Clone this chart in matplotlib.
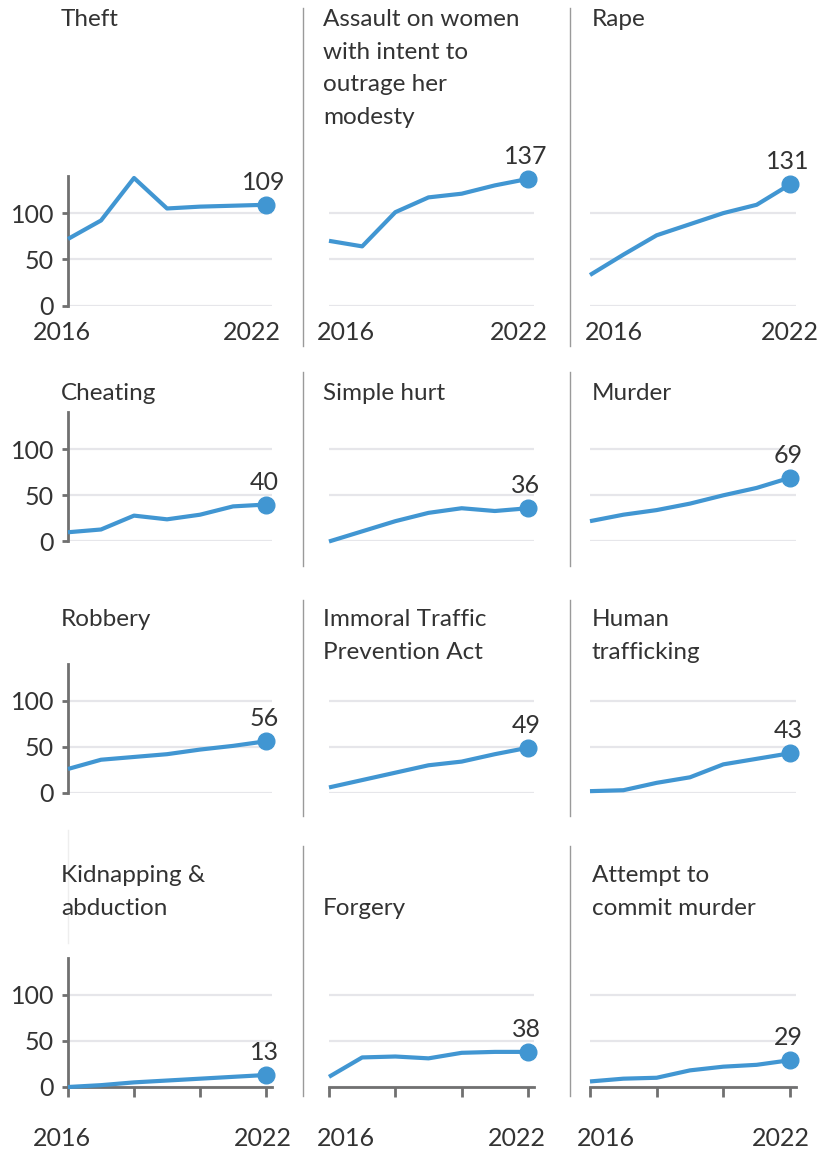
import matplotlib
matplotlib.use("Agg")
import matplotlib.pyplot as plt
from matplotlib.lines import Line2D

plt.rcParams['font.family'] = ['Lato', 'DejaVu Sans']

years = [2016, 2017, 2018, 2019, 2020, 2021, 2022]

titles = [
    "Theft", "Assault on women\nwith intent to\noutrage her\nmodesty", "Rape",
    "Cheating", "Simple hurt", "Murder",
    "Robbery", "Immoral Traffic\nPrevention Act", "Human\ntrafficking",
    "Kidnapping &\nabduction", "Forgery", "Attempt to\ncommit murder",
]

theft = [72, 92, 138, 105, 107, 108, 109]
assault = [70, 64, 101, 117, 121, 130, 137]
rape = [33, 55, 76, 88, 100, 109, 131]
cheating = [10, 13, 28, 24, 29, 38, 40]
simple_hurt = [0, 11, 22, 31, 36, 33, 36]
murder = [22, 29, 34, 41, 50, 58, 69]
robbery = [26, 36, 39, 42, 47, 51, 56]
itpa = [6, 14, 22, 30, 34, 42, 49]
trafficking = [2, 3, 11, 17, 31, 37, 43]
kidnapping = [0, 2, 5, 7, 9, 11, 13]
forgery = [11, 32, 33, 31, 37, 38, 38]
attempt_murder = [6, 9, 10, 18, 22, 24, 29]

series = [theft, assault, rape, cheating, simple_hurt, murder,
          robbery, itpa, trafficking, kidnapping, forgery, attempt_murder]

y_ticks = [0, 50, 100]
bottom_ticks = [2016, 2018, 2020, 2022]

W, H = 826, 1152
BLUE = "#4196d2"
TXT = "#333333"
AX = "#707070"
GRID = "#e6e6ea"
FS = 18
TITLE_FS = 17.5

fig = plt.figure(figsize=(W / 100, H / 100), dpi=100)

# pixel layout
col_x = [(68, 272), (329, 534), (590, 796)]
row_zero = [305.5, 541.5, 793, 1087]
px_per_unit = 0.924
y_max = 140
title_top = [[9, 9, 9], [383, 383, 383], [609, 609, 609], [865, 898, 865]]
title_x = [61, 323, 592]
seps = [(8, 346), (372, 566), (600, 816), (846, 1096)]
sep_x = [303, 570]
# year label offsets (px) per column: (2016 dx, 2022 dx)
top_lab = [(-6, -14), (17, -9), (24, 0)]
bot_lab = [(-6, -3), (17, -11), (16, -9)]


def px_axes(left, top, right, bottom):
    return fig.add_axes([left / W, 1 - bottom / H, (right - left) / W, (bottom - top) / H])


for i, vals in enumerate(series):
    r, c = divmod(i, 3)
    x0, x1 = col_x[c]
    zero = row_zero[r]
    top = zero - y_max * px_per_unit
    ax = px_axes(x0, top, x1, zero)
    ax.set_xlim(2016, 2022.18)
    ax.set_ylim(0, y_max)
    ax.patch.set_visible(False)
    for s in ax.spines.values():
        s.set_visible(False)

    for v in y_ticks:
        ax.axhline(v, color=GRID, lw=1.6, zorder=0)

    ax.plot(years, vals, color=BLUE, lw=3, solid_capstyle='butt', clip_on=False, zorder=3)
    ax.plot(years[-1], vals[-1], 'o', color=BLUE, ms=12, clip_on=False, zorder=4)
    ax.annotate(str(vals[-1]), (years[-1], vals[-1]), xytext=(-2, 11),
                textcoords='offset pixels', ha='center', va='bottom',
                fontsize=FS, color=TXT)

    if c == 0:
        ax.spines['left'].set_visible(True)
        ax.spines['left'].set_color(AX)
        ax.spines['left'].set_linewidth(2)
        ax.set_yticks(y_ticks)
        ax.tick_params(axis='y', length=4, width=2, color=AX, pad=6,
                       labelsize=FS, labelcolor=TXT)
    else:
        ax.set_yticks([])

    if r == 3:
        ax.spines['bottom'].set_visible(True)
        ax.spines['bottom'].set_color(AX)
        ax.spines['bottom'].set_linewidth(2)
        ax.set_xticks(bottom_ticks)
        ax.set_xticklabels([])
        ax.tick_params(axis='x', length=7, width=2, color=AX)
        offs, dy = bot_lab[c], -51
    else:
        ax.set_xticks([])
        offs, dy = top_lab[c], -27

    if r in (0, 3):
        for yr, dx in zip([2016, 2022], offs):
            ax.annotate(str(yr), (yr, 0), xytext=(dx, dy), textcoords='offset pixels',
                        ha='center', va='center', fontsize=FS, color=TXT)

    fig.text(title_x[c] / W, 1 - title_top[r][c] / H, titles[i], ha='left', va='top',
             fontsize=TITLE_FS, color=TXT, linespacing=1.68)

for (y0, y1) in seps:
    for sx in sep_x:
        fig.add_artist(Line2D([sx / W, sx / W], [1 - y0 / H, 1 - y1 / H],
                              color="#9a9a9a", lw=1))

fig.add_artist(Line2D([68 / W, 68 / W], [1 - 830 / H, 1 - 943 / H], color="#eeeeee", lw=1))

fig.savefig("out.png", dpi=100, facecolor="white")
